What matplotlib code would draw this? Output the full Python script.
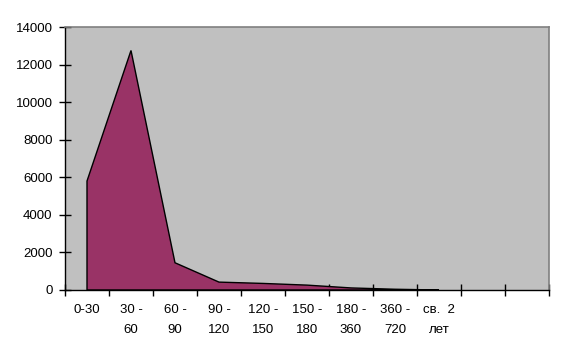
import numpy as np
import matplotlib
matplotlib.use("Agg")
import matplotlib.pyplot as plt

# categories (days overdue) and counts
categories = ["0-30", "30 -\n60", "60 -\n90", "90 -\n120", "120 -\n150",
              "150 -\n180", "180 -\n360", "360 -\n720", "св.  2\nлет"]
values = [5800, 12750, 1450, 420, 350, 260, 110, 40, 0]
n_slots = 11          # axis has two empty category slots at the end
yticks = [0, 2000, 4000, 6000, 8000, 10000, 12000, 14000]

plt.rcParams['font.family'] = ['Liberation Sans', 'DejaVu Sans']

fig = plt.figure(figsize=(5.65, 3.56), dpi=100)
ax = fig.add_axes([65/565, 66/356, 484/565, 263/356])
ax.set_facecolor("#c0c0c0")

x = np.arange(len(values))
xs = np.concatenate([[x[0]], x, [x[-1]]])
ys = np.concatenate([[0], values, [0]])
ax.fill(xs, ys, facecolor="#993366", edgecolor="black", linewidth=1.0, zorder=2)

ax.set_xlim(-0.5, n_slots - 0.5)
ax.set_ylim(0, 14000)

ax.set_xticks(np.arange(n_slots + 1) - 0.5)
ax.set_xticklabels([])
ax.set_xticks(x, minor=True)
ax.set_xticklabels(categories, minor=True, fontsize=9.5, linespacing=1.85)
ax.tick_params(axis="x", which="major", direction="inout", length=8, width=1, color="black")
ax.tick_params(axis="x", which="minor", length=0, pad=10)

ax.set_yticks(yticks)
ax.set_yticklabels([str(v) for v in yticks], fontsize=9.5)
ax.tick_params(axis="y", direction="inout", length=8, width=1, pad=5)

for s in ["left", "bottom"]:
    ax.spines[s].set_color("black")
    ax.spines[s].set_linewidth(1)
for s in ["top", "right"]:
    ax.spines[s].set_color("#808080")
    ax.spines[s].set_linewidth(1.2)

fig.savefig("out.png", dpi=100, facecolor="white")
